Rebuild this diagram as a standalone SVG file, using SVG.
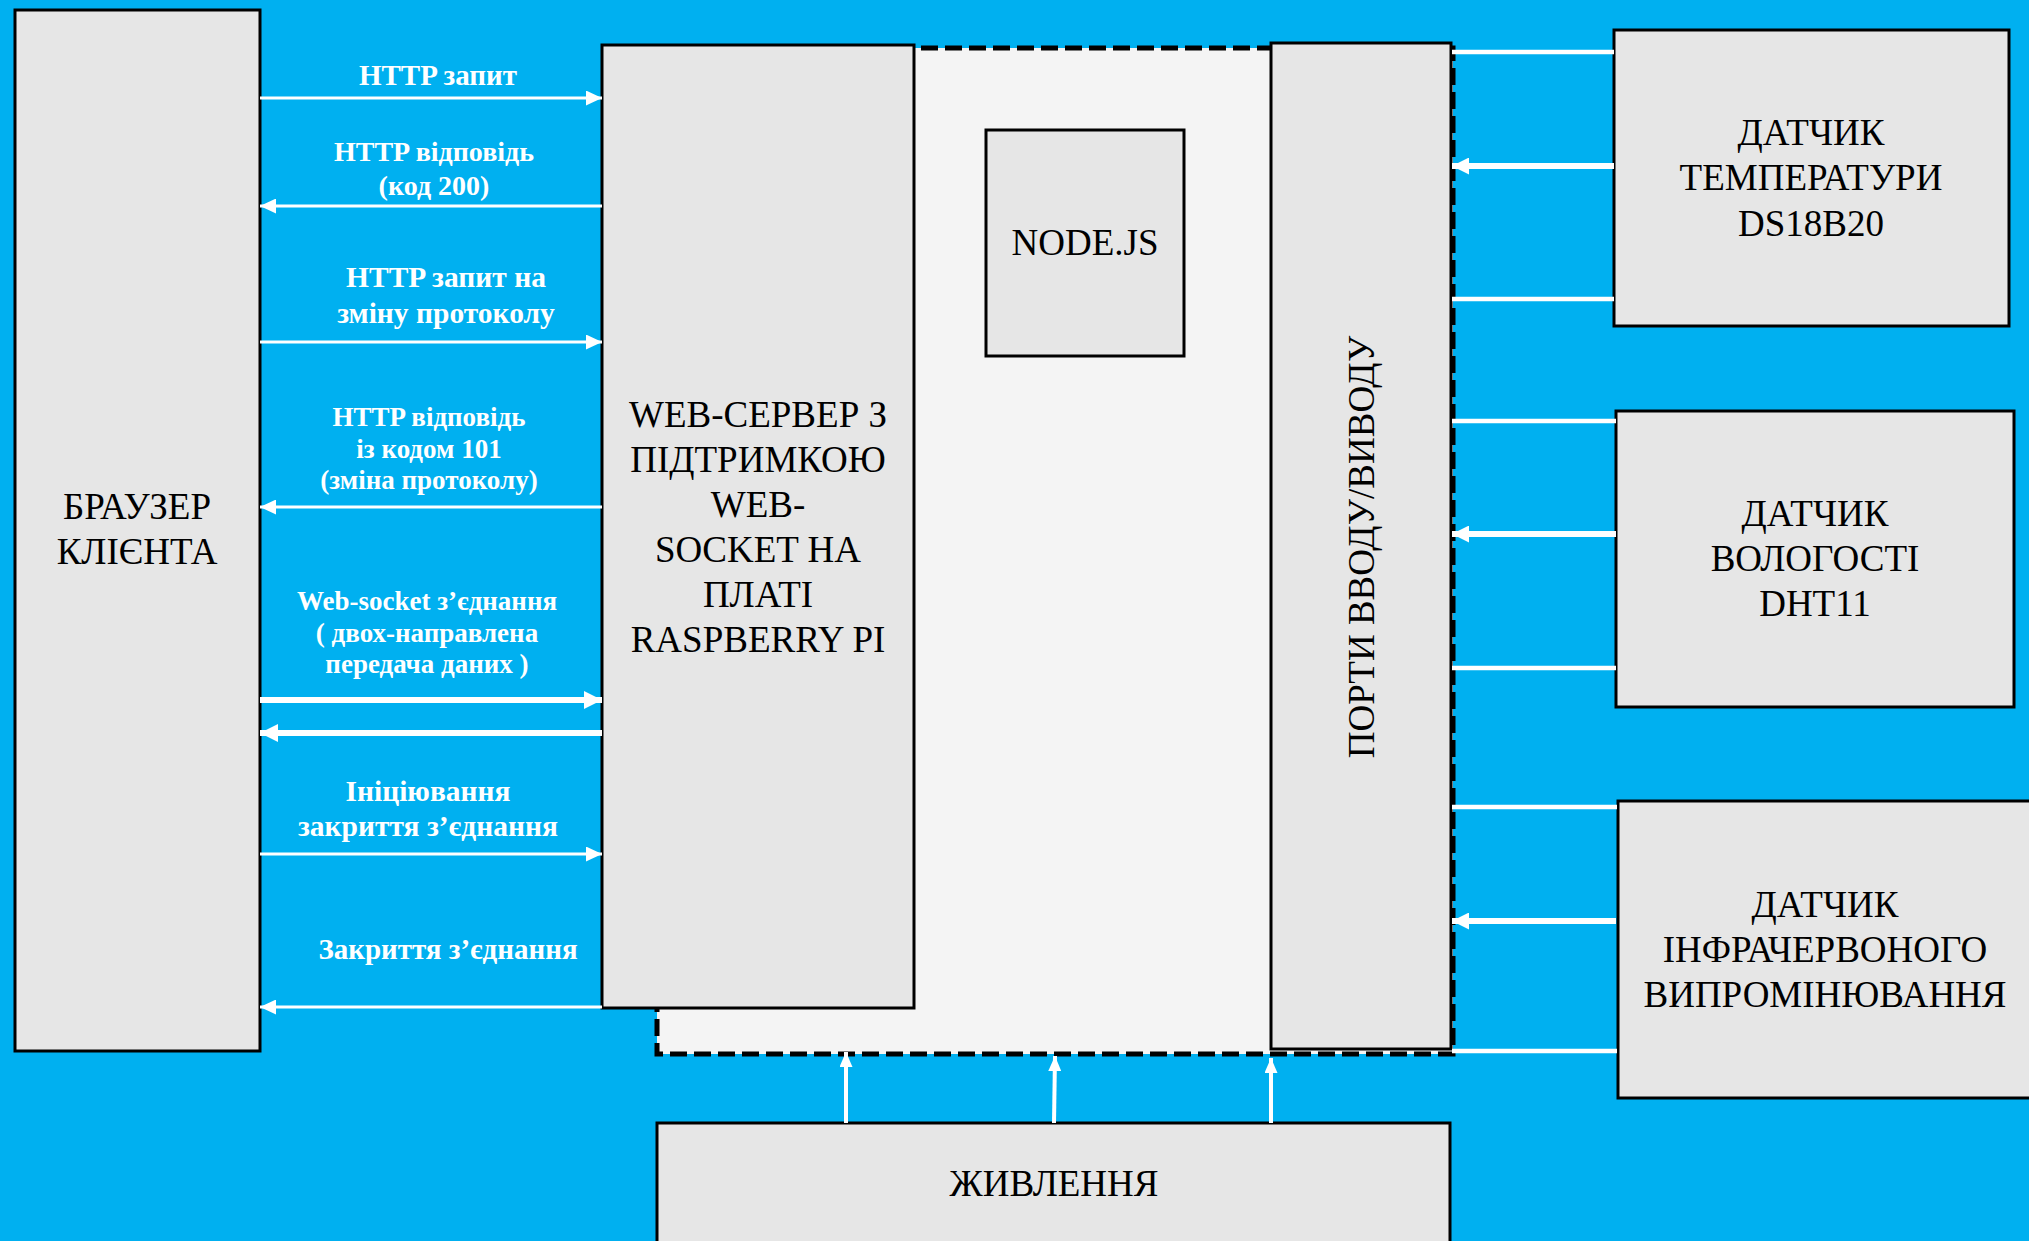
<svg xmlns="http://www.w3.org/2000/svg" width="2029" height="1241" viewBox="0 0 2029 1241">
<style>
.box{fill:#E6E6E6;stroke:#000;stroke-width:3}
.cont{fill:#F4F4F4;stroke:#000;stroke-width:5;stroke-dasharray:17 7}
.t{font-family:"Liberation Serif","Times New Roman",serif;font-size:37px;fill:#000;text-anchor:middle}
.lbl{font-family:"Liberation Serif","Times New Roman",serif;font-size:29px;font-weight:bold;fill:#fff;text-anchor:middle}
.s27{font-size:27px}
.s28{font-size:28px}
.s295{font-size:29.5px}
.thin{stroke:#fff;stroke-width:3;fill:none}
.thick{stroke:#fff;stroke-width:6;fill:none}
.sl{stroke:#fff;stroke-width:4.5;fill:none}
.pw{stroke:#fff;stroke-width:4;fill:none}
</style>
<defs>
<marker id="aThin" markerUnits="userSpaceOnUse" markerWidth="16" markerHeight="15" refX="16" refY="7.5" orient="auto"><path d="M0,0 L16,7.5 L0,15 z" fill="#fff"/></marker>
<marker id="aThick" markerUnits="userSpaceOnUse" markerWidth="18" markerHeight="18" refX="18" refY="9" orient="auto"><path d="M0,0 L18,9 L0,18 z" fill="#fff"/></marker>
<marker id="aSens" markerUnits="userSpaceOnUse" markerWidth="17" markerHeight="17" refX="17" refY="8.5" orient="auto"><path d="M0,0 L17,8.5 L0,17 z" fill="#fff"/></marker>
<marker id="aPow" markerUnits="userSpaceOnUse" markerWidth="15" markerHeight="13" refX="15" refY="6.5" orient="auto"><path d="M0,0 L15,6.5 L0,13 z" fill="#fff"/></marker>
</defs>
<rect x="0" y="0" width="2029" height="1241" fill="#00B0F0"/>

<g id="raspberry-board">
<rect class="cont" x="657" y="48" width="796" height="1006"/>
</g>

<g id="browser">
<rect class="box" x="15" y="10" width="245" height="1041"/>
<text class="t" x="137" y="519">БРАУЗЕР</text>
<text class="t" x="137" y="564">КЛІЄНТА</text>
</g>

<g id="web-server">
<rect class="box" x="602" y="45" width="312" height="963"/>
<text class="t" x="758" y="427">WEB-СЕРВЕР З</text>
<text class="t" x="758" y="472">ПІДТРИМКОЮ</text>
<text class="t" x="758" y="517">WEB-</text>
<text class="t" x="758" y="562">SOCKET НА</text>
<text class="t" x="758" y="607">ПЛАТІ</text>
<text class="t" x="758" y="652">RASPBERRY PI</text>
</g>

<g id="nodejs">
<rect class="box" x="986" y="130" width="198" height="226"/>
<text class="t" x="1085" y="255">NODE.JS</text>
</g>

<g id="io-ports">
<rect class="box" x="1271" y="43" width="180" height="1006"/>
<text class="t" transform="translate(1374,547) rotate(-90)" x="0" y="0">ПОРТИ ВВОДУ/ВИВОДУ</text>
</g>

<g id="temp-sensor">
<rect class="box" x="1614" y="30" width="395" height="296"/>
<text class="t" x="1811" y="145">ДАТЧИК</text>
<text class="t" x="1811" y="190">ТЕМПЕРАТУРИ</text>
<text class="t" x="1811" y="236">DS18B20</text>
</g>

<g id="humidity-sensor">
<rect class="box" x="1616" y="411" width="398" height="296"/>
<text class="t" x="1815" y="526">ДАТЧИК</text>
<text class="t" x="1815" y="571">ВОЛОГОСТІ</text>
<text class="t" x="1815" y="616">DHT11</text>
</g>

<g id="ir-sensor">
<rect class="box" x="1618" y="801" width="440" height="297"/>
<text class="t" x="1825" y="917">ДАТЧИК</text>
<text class="t" x="1825" y="962">ІНФРАЧЕРВОНОГО</text>
<text class="t" x="1825" y="1007">ВИПРОМІНЮВАННЯ</text>
</g>

<g id="power">
<rect class="box" x="657" y="1123" width="793" height="140"/>
<text class="t" x="1054" y="1196">ЖИВЛЕННЯ</text>
</g>

<g id="connectors">
<line class="thin" x1="260" y1="98" x2="602" y2="98" marker-end="url(#aThin)"/>
<line class="thin" x1="602" y1="206" x2="260" y2="206" marker-end="url(#aThin)"/>
<line class="thin" x1="260" y1="342" x2="602" y2="342" marker-end="url(#aThin)"/>
<line class="thin" x1="602" y1="507" x2="260" y2="507" marker-end="url(#aThin)"/>
<line class="thick" x1="260" y1="700" x2="602" y2="700" marker-end="url(#aThick)"/>
<line class="thick" x1="602" y1="733" x2="260" y2="733" marker-end="url(#aThick)"/>
<line class="thin" x1="260" y1="854" x2="602" y2="854" marker-end="url(#aThin)"/>
<line class="thin" x1="602" y1="1007" x2="260" y2="1007" marker-end="url(#aThin)"/>

<line class="sl" x1="1452" y1="52" x2="1614" y2="52"/>
<line class="thick" x1="1614" y1="166" x2="1452" y2="166" marker-end="url(#aSens)"/>
<line class="sl" x1="1452" y1="299" x2="1614" y2="299"/>
<line class="sl" x1="1452" y1="421" x2="1616" y2="421"/>
<line class="thick" x1="1616" y1="534" x2="1452" y2="534" marker-end="url(#aSens)"/>
<line class="sl" x1="1452" y1="668" x2="1616" y2="668"/>
<line class="sl" x1="1452" y1="807" x2="1617" y2="807"/>
<line class="thick" x1="1616" y1="921" x2="1452" y2="921" marker-end="url(#aSens)"/>
<line class="sl" x1="1452" y1="1051" x2="1617" y2="1051"/>

<line class="pw" x1="846" y1="1123" x2="846" y2="1052" marker-end="url(#aPow)"/>
<line class="pw" x1="1054" y1="1123" x2="1055" y2="1056" marker-end="url(#aPow)"/>
<line class="pw" x1="1271" y1="1123" x2="1271" y2="1058" marker-end="url(#aPow)"/>
</g>

<g id="labels">
<text class="lbl" x="438" y="85">HTTP запит</text>
<text class="lbl s28" x="434" y="161">HTTP відповідь</text>
<text class="lbl s28" x="434" y="195">(код 200)</text>
<text class="lbl s295" x="446" y="287">HTTP запит на</text>
<text class="lbl s295" x="446" y="323">зміну протоколу</text>
<text class="lbl s27" x="429" y="426">HTTP відповідь</text>
<text class="lbl s27" x="429" y="458">із кодом 101</text>
<text class="lbl s27" x="429" y="489">(зміна протоколу)</text>
<text class="lbl s27" x="427" y="610">Web-socket з’єднання</text>
<text class="lbl s27" x="427" y="642">( двох-направлена</text>
<text class="lbl s27" x="427" y="673">передача даних )</text>
<text class="lbl s295" x="428" y="801">Ініціювання</text>
<text class="lbl s295" x="428" y="836">закриття з’єднання</text>
<text class="lbl" x="448" y="959">Закриття з’єднання</text>
</g>
</svg>
